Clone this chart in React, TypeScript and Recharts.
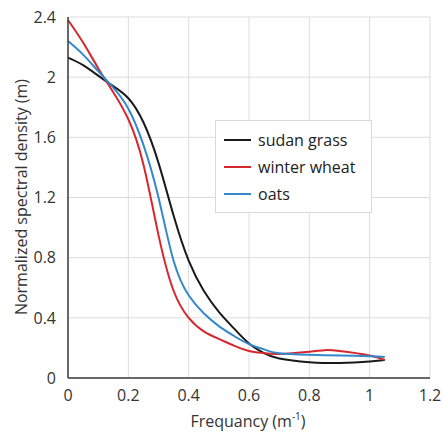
import { LineChart, Line, XAxis, YAxis, CartesianGrid, Label } from 'recharts'

const freq = [0, 0.05, 0.1, 0.15, 0.2, 0.25, 0.3, 0.35, 0.4, 0.45, 0.5, 0.55, 0.6, 0.65, 0.7, 0.8, 0.85, 0.9, 1.0, 1.05]
const sudanGrass = [2.13, 2.08, 2.01, 1.94, 1.86, 1.7, 1.43, 1.08, 0.78, 0.58, 0.44, 0.33, 0.23, 0.165, 0.13, 0.105, 0.1, 0.1, 0.11, 0.12]
const winterWheat = [2.38, 2.23, 2.06, 1.9, 1.72, 1.42, 0.95, 0.58, 0.4, 0.31, 0.26, 0.215, 0.18, 0.165, 0.16, 0.175, 0.185, 0.18, 0.15, 0.12]
const oats = [2.24, 2.15, 2.04, 1.93, 1.79, 1.55, 1.2, 0.78, 0.55, 0.43, 0.345, 0.28, 0.225, 0.19, 0.165, 0.155, 0.152, 0.15, 0.145, 0.14]
const xTicks = [0, 0.2, 0.4, 0.6, 0.8, 1, 1.2]
const yTicks = [0, 0.4, 0.8, 1.2, 1.6, 2, 2.4]

const series = [
  { key: 'sudan grass', values: sudanGrass, color: '#1a1a1a' },
  { key: 'winter wheat', values: winterWheat, color: '#d7272e' },
  { key: 'oats', values: oats, color: '#3388cc' },
]

const data = freq.map((f, i) => {
  const row: Record<string, number> = { f }
  series.forEach(s => { row[s.key] = s.values[i] })
  return row
})

const font = '"Open Sans", "Noto Sans", sans-serif'

export default function App() {
  return (
    <div style={{ position: 'relative', width: 443, height: 436, background: '#fff' }}>
      <style>{'body{margin:0}'}</style>
      <LineChart width={443} height={436} data={data} margin={{ top: 17, right: 13, bottom: 28, left: 0 }}>
        <CartesianGrid stroke="#dcdcdc" strokeWidth={1} />
        <XAxis dataKey="f" type="number" domain={[0, 1.2]} ticks={xTicks} tickLine={false} height={30}
          axisLine={{ stroke: '#3c3c3c', strokeWidth: 1.5 }} tick={{ fill: '#333', fontSize: 16, fontFamily: font }} tickMargin={6}>
          <Label position="insideBottom" content={() => (
            <text x={248} y={427} textAnchor="middle" fill="#333" fontSize={16} fontFamily={font}>
              Frequancy (m<tspan fontSize={10} dy={-7}>-1</tspan><tspan dy={7}>)</tspan>
            </text>
          )} />
        </XAxis>
        <YAxis type="number" domain={[0, 2.4]} ticks={yTicks} width={68} tickLine={false}
          axisLine={{ stroke: '#3c3c3c', strokeWidth: 1.5 }} tick={{ fill: '#333', fontSize: 16, fontFamily: font }} tickMargin={6}>
          <Label content={() => (
            <text x={27} y={197} transform="rotate(-90 27 197)" textAnchor="middle" fill="#333" fontSize={16} fontFamily={font}>
              Normalized spectral density (m)
            </text>
          )} />
        </YAxis>
        {series.map(s => (
          <Line key={s.key} dataKey={s.key} type="natural" stroke={s.color} strokeWidth={2} dot={false} isAnimationActive={false} />
        ))}
      </LineChart>
      <div style={{ position: 'absolute', left: 215, top: 120, width: 157, boxSizing: 'border-box', background: '#fff', border: '1px solid #d9d9d9', padding: '5px 8px', fontFamily: font, fontSize: 16, color: '#222' }}>
        {series.map(s => (
          <div key={s.key} style={{ display: 'flex', alignItems: 'center', height: 27 }}>
            <div style={{ width: 27, height: 2, background: s.color, marginRight: 7 }} />
            <span>{s.key}</span>
          </div>
        ))}
      </div>
    </div>
  )
}
